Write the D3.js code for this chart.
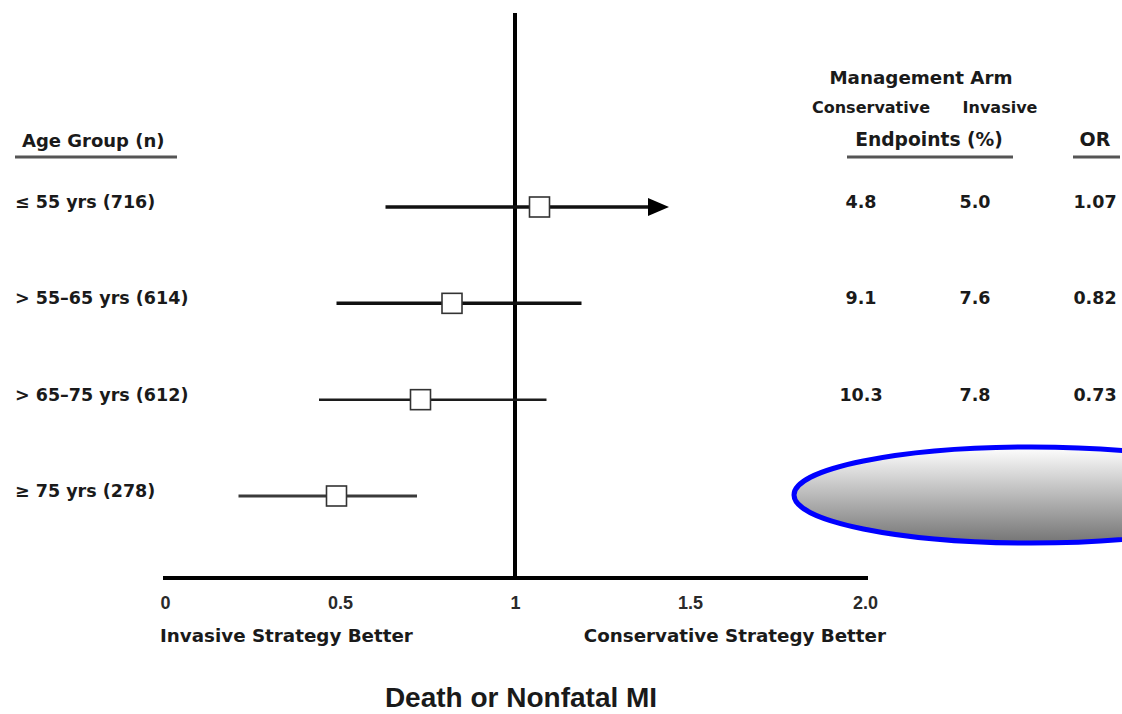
<!DOCTYPE html>
<html>
<head>
<meta charset="utf-8">
<script src="https://cdn.jsdelivr.net/npm/d3@7"></script>
<style>
  html, body { margin: 0; padding: 0; background: #fff; }
  svg { display: block; }
  .lbl { font-family: "DejaVu Sans", sans-serif; font-weight: bold; fill: #1a1a1a; }
  .tick text { font-family: "Liberation Sans", Arial, sans-serif; font-weight: bold; fill: #2a2a2a; }
</style>
</head>
<body>
<script>
// Age subgroups (n), odds ratios with 95% CI, and endpoint rates per arm
const ageGroups = ["\u2264 55 yrs (716)", "> 55\u201365 yrs (614)", "> 65\u201375 yrs (612)", "\u2265 75 yrs (278)"];
const oddsRatio = [1.07, 0.82, 0.73, 0.49];
const ciLower   = [0.63, 0.49, 0.44, 0.21];
const ciUpper   = [1.44, 1.19, 1.09, 0.72];
const ciArrow   = [true, false, false, false];
const conservativePct = ["4.8", "9.1", "10.3", null];
const invasivePct     = ["5.0", "7.6", "7.8", null];
const orLabels        = ["1.07", "0.82", "0.73", null];
const tickValues = [0, 0.5, 1, 1.5, 2];
const tickLabels = ["0", "0.5", "1", "1.5", "2.0"];

const W = 1122, H = 714;
const svg = d3.select("body").append("svg").attr("width", W).attr("height", H);

const x = d3.scaleLinear().domain([0, 2]).range([165, 865]);
const y = d3.scalePoint().domain(ageGroups).range([207, 496]);
const axisY = 578;

// reference line at OR = 1
svg.append("line")
  .attr("x1", x(1)).attr("x2", x(1))
  .attr("y1", 13).attr("y2", axisY)
  .attr("stroke", "#000").attr("stroke-width", 4);

// x axis
const axis = d3.axisBottom(x)
  .tickValues(tickValues)
  .tickFormat((d, i) => tickLabels[i])
  .tickSize(0)
  .tickPadding(18);
const gAxis = svg.append("g").attr("transform", `translate(0,${axisY})`).call(axis);
gAxis.select(".domain").attr("stroke", "#000").attr("stroke-width", 4)
  .attr("d", `M${x(0) - 2},0H${x(2) + 3}`);
gAxis.selectAll(".tick text").attr("font-size", 18);

// confidence intervals
const ciStroke = [3.5, 3.5, 2.5, 3];
const ciColor = ["#111", "#111", "#1c1c1c", "#3a3a3a"];
const rows = ageGroups.map((g, i) => ({ g, i }));

svg.selectAll("line.ci").data(rows).join("line")
  .attr("class", "ci")
  .attr("x1", d => x(ciLower[d.i]))
  .attr("x2", d => ciArrow[d.i] ? x(ciUpper[d.i]) - 18 : x(ciUpper[d.i]))
  .attr("y1", d => y(d.g)).attr("y2", d => y(d.g))
  .attr("stroke", d => ciColor[d.i])
  .attr("stroke-width", d => ciStroke[d.i]);

// arrowheads for intervals that run on
svg.selectAll("path.arrow").data(rows.filter(d => ciArrow[d.i])).join("path")
  .attr("class", "arrow")
  .attr("d", d => {
    const tip = x(ciUpper[d.i]), cy = y(d.g);
    const p = d3.path();
    p.moveTo(tip, cy);
    p.lineTo(tip - 21, cy - 9);
    p.lineTo(tip - 21, cy + 9);
    p.closePath();
    return p.toString();
  })
  .attr("fill", "#000");

// point estimates
const sq = 20;
svg.selectAll("rect.or").data(rows).join("rect")
  .attr("class", "or")
  .attr("x", d => x(oddsRatio[d.i]) - sq / 2)
  .attr("y", d => y(d.g) - sq / 2)
  .attr("width", sq).attr("height", sq)
  .attr("fill", "#fff")
  .attr("stroke", "#333").attr("stroke-width", 1.6);

// left column: age groups
svg.append("text").attr("class", "lbl")
  .attr("x", 22).attr("y", 147).attr("font-size", 18)
  .text("Age Group (n)");
svg.append("line")
  .attr("x1", 15).attr("x2", 177).attr("y1", 157).attr("y2", 157)
  .attr("stroke", "#555").attr("stroke-width", 3);

svg.selectAll("text.group").data(rows).join("text")
  .attr("class", "lbl group")
  .attr("x", 15).attr("y", d => y(d.g) + 1)
  .attr("font-size", 17.5)
  .text(d => d.g);

// right columns: endpoint rates and odds ratio
const colCons = 861, colInv = 975, colOR = 1095;
svg.append("text").attr("class", "lbl").attr("text-anchor", "middle")
  .attr("x", 921).attr("y", 84).attr("font-size", 18.3).text("Management Arm");
svg.append("text").attr("class", "lbl").attr("text-anchor", "middle")
  .attr("x", 871).attr("y", 113).attr("font-size", 16).text("Conservative");
svg.append("text").attr("class", "lbl").attr("text-anchor", "middle")
  .attr("x", 1000).attr("y", 113).attr("font-size", 16).text("Invasive");
svg.append("text").attr("class", "lbl").attr("text-anchor", "middle")
  .attr("x", 929).attr("y", 146).attr("font-size", 18.7).text("Endpoints (%)");
svg.append("line")
  .attr("x1", 847).attr("x2", 1013).attr("y1", 157).attr("y2", 157)
  .attr("stroke", "#555").attr("stroke-width", 3);
svg.append("text").attr("class", "lbl").attr("text-anchor", "middle")
  .attr("x", colOR).attr("y", 146).attr("font-size", 19).text("OR");
svg.append("line")
  .attr("x1", 1073).attr("x2", 1120).attr("y1", 157).attr("y2", 157)
  .attr("stroke", "#555").attr("stroke-width", 3);

const valueCols = [[conservativePct, colCons], [invasivePct, colInv], [orLabels, colOR]];
valueCols.forEach(([vals, cx]) => {
  svg.selectAll(null).data(rows.filter(d => vals[d.i] !== null)).join("text")
    .attr("class", "lbl").attr("text-anchor", "middle")
    .attr("x", cx).attr("y", d => y(d.g) + 1)
    .attr("font-size", 17.5)
    .text(d => vals[d.i]);
});

// bottom captions
svg.append("text").attr("class", "lbl")
  .attr("x", 160).attr("y", 642).attr("font-size", 18.3)
  .text("Invasive Strategy Better");
svg.append("text").attr("class", "lbl").attr("text-anchor", "end")
  .attr("x", 886).attr("y", 642).attr("font-size", 18.3)
  .text("Conservative Strategy Better");
svg.append("text")
  .attr("x", 521).attr("y", 707).attr("text-anchor", "middle")
  .attr("font-family", "'Liberation Sans', Arial, sans-serif")
  .attr("font-weight", "bold")
  .attr("font-size", 28).attr("fill", "#1a1a1a")
  .text("Death or Nonfatal MI");

// shaded callout covering the oldest group's figures
const defs = svg.append("defs");
const grad = defs.append("linearGradient").attr("id", "calloutFill")
  .attr("x1", 0).attr("y1", 0).attr("x2", 0).attr("y2", 1);
grad.append("stop").attr("offset", "0%").attr("stop-color", "#ffffff");
grad.append("stop").attr("offset", "100%").attr("stop-color", "#747474");
svg.append("ellipse")
  .attr("cx", 1031).attr("cy", 495).attr("rx", 237).attr("ry", 48)
  .attr("fill", "url(#calloutFill)")
  .attr("stroke", "#0000ff").attr("stroke-width", 5);
</script>
</body>
</html>
